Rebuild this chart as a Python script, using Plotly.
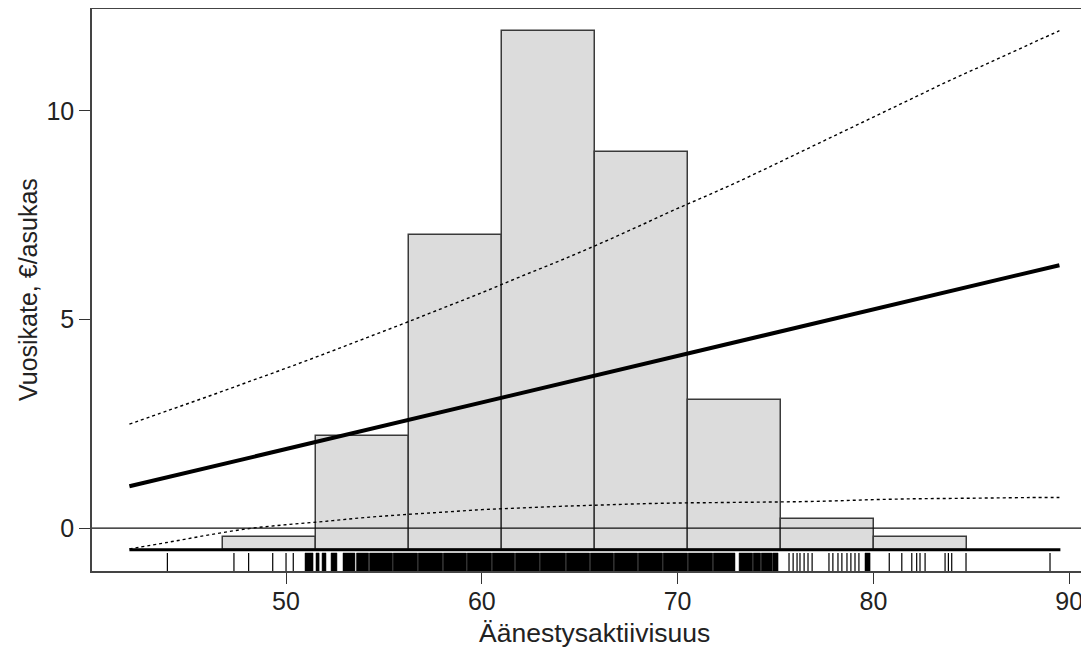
import plotly.graph_objects as go

# ---- data ----
hist_edges = [46.8, 51.55, 56.3, 61.05, 65.8, 70.55, 75.3, 80.05, 84.8]
hist_tops = [-0.21, 2.2, 7.02, 11.92, 9.02, 3.06, 0.21, -0.21]
hist_base = -0.52
hist_range = [42.0, 89.55]

ci_x = [42, 44, 46, 48, 50, 52, 54, 56, 58, 60, 62, 64, 66, 68, 70, 72, 74, 76, 78, 80, 82, 84, 86, 88, 89.5]
ci_upper = [2.49, 2.82, 3.15, 3.49, 3.83, 4.18, 4.54, 4.90, 5.27, 5.64, 6.03, 6.41, 6.81, 7.23, 7.66, 8.07, 8.5,
            8.95, 9.4, 9.85, 10.3, 10.75, 11.17, 11.6, 11.92]
ci_lower = [-0.50, -0.34, -0.17, -0.02, 0.08, 0.16, 0.25, 0.32, 0.38, 0.44, 0.48, 0.52, 0.55, 0.58, 0.60, 0.61,
            0.62, 0.63, 0.65, 0.68, 0.70, 0.71, 0.72, 0.73, 0.73]
fit_x = [42, 89.5]
fit_y = [1.0, 6.3]

rug_ticks = [43.94, 47.34, 48.09, 49.32, 50.0, 50.37,
             75.69, 75.9, 76.1, 76.25, 76.46, 76.66, 76.87,
             77.73, 77.93, 78.19, 78.39, 78.65, 78.85, 79.06, 79.26,
             80.81, 81.45, 81.96, 82.21, 82.38, 82.64, 83.66, 83.83, 84.0, 84.73, 89.02]
rug_blocks = [(50.97, 51.38), (51.53, 51.69), (51.84, 52.04), (52.30, 52.60), (52.91, 53.52),
              (53.60, 54.22), (54.26, 55.44), (55.47, 56.72), (56.75, 58.00), (58.03, 59.22),
              (59.25, 60.50), (60.53, 61.68), (61.71, 62.95), (62.98, 64.28), (64.31, 65.51),
              (65.54, 66.73), (66.76, 67.96), (67.99, 69.23), (69.26, 70.51), (70.54, 71.79),
              (71.82, 72.93), (73.14, 73.83), (73.86, 74.24), (74.27, 74.82), (74.85, 75.13),
              (79.57, 79.83)]
rug_bottom = -1.03
rug_top = -0.6

x_ticks = [50, 60, 70, 80, 90]
y_ticks = [0, 5, 10]
x_title = "Äänestysaktiivisuus"
y_title = "Vuosikate, €/asukas"

FONT = "Liberation Sans, Arial, sans-serif"

fig = go.Figure()

# histogram bars
centers = [(a + b) / 2 for a, b in zip(hist_edges[:-1], hist_edges[1:])]
widths = [b - a for a, b in zip(hist_edges[:-1], hist_edges[1:])]
fig.add_trace(go.Bar(
    x=centers, y=[t - hist_base for t in hist_tops], base=hist_base, width=widths,
    marker=dict(color="#dcdcdc", line=dict(color="#3a3a3a", width=1.5)),
    hoverinfo="skip", showlegend=False))

# baseline of histogram
fig.add_trace(go.Scatter(x=hist_range, y=[hist_base, hist_base], mode="lines",
                         line=dict(color="black", width=3), showlegend=False, hoverinfo="skip"))

# zero line
fig.add_hline(y=0, line=dict(color="#111", width=1.2), layer="above")

# rug blocks
bx, by = [], []
for a, b in rug_blocks:
    bx += [a, b, b, a, a, None]
    by += [rug_bottom, rug_bottom, rug_top, rug_top, rug_bottom, None]
fig.add_trace(go.Scatter(x=bx, y=by, mode="lines", fill="toself", fillcolor="black",
                         line=dict(color="black", width=0.5), showlegend=False, hoverinfo="skip"))
# rug ticks
tx, ty = [], []
for v in rug_ticks:
    tx += [v, v, None]
    ty += [rug_bottom, rug_top, None]
fig.add_trace(go.Scatter(x=tx, y=ty, mode="lines", line=dict(color="black", width=1.2),
                         showlegend=False, hoverinfo="skip"))

# confidence bounds
fig.add_trace(go.Scatter(x=ci_x, y=ci_upper, mode="lines", line=dict(color="black", width=1.4, dash="dot"),
                         line_shape="spline", showlegend=False, hoverinfo="skip"))
fig.add_trace(go.Scatter(x=ci_x, y=ci_lower, mode="lines", line=dict(color="black", width=1.4, dash="dot"),
                         line_shape="spline", showlegend=False, hoverinfo="skip"))
# estimate
fig.add_trace(go.Scatter(x=fit_x, y=fit_y, mode="lines", line=dict(color="black", width=4),
                         showlegend=False, hoverinfo="skip"))

# the page body adds an 8px offset; margins compensate for it
fig.update_layout(
    width=1089, height=647,
    margin=dict(l=84, r=0, t=1, b=84),
    plot_bgcolor="white", paper_bgcolor="white",
    font=dict(family=FONT, size=25, color="#222"),
    bargap=0,
)
fig.update_xaxes(range=[40.09, 91.42], tickvals=x_ticks, ticks="outside", ticklen=11, tickwidth=1.2,
                 tickcolor="#333", showline=True, linecolor="#444", linewidth=1.5, mirror=True,
                 showgrid=False, zeroline=False, automargin=False, tickfont=dict(size=25),
                 ticklabelstandoff=-4)
fig.update_yaxes(range=[-1.03, 12.44], tickvals=y_ticks, ticks="outside", ticklen=11, tickwidth=1.2,
                 tickcolor="#333", showline=True, linecolor="#444", linewidth=1.5,
                 showgrid=False, zeroline=False, automargin=False, tickfont=dict(size=25))

# axis titles placed as annotations
fig.add_annotation(text=x_title, xref="paper", yref="paper", x=0.5, y=0,
                   yanchor="middle", xanchor="center", showarrow=False, font=dict(size=26.5),
                   yshift=-62)
fig.add_annotation(text=y_title, xref="paper", yref="paper", x=0, y=0.5, xanchor="center",
                   yanchor="middle", textangle=-90, showarrow=False, font=dict(size=25),
                   xshift=-64)

fig.write_html("out.html")
